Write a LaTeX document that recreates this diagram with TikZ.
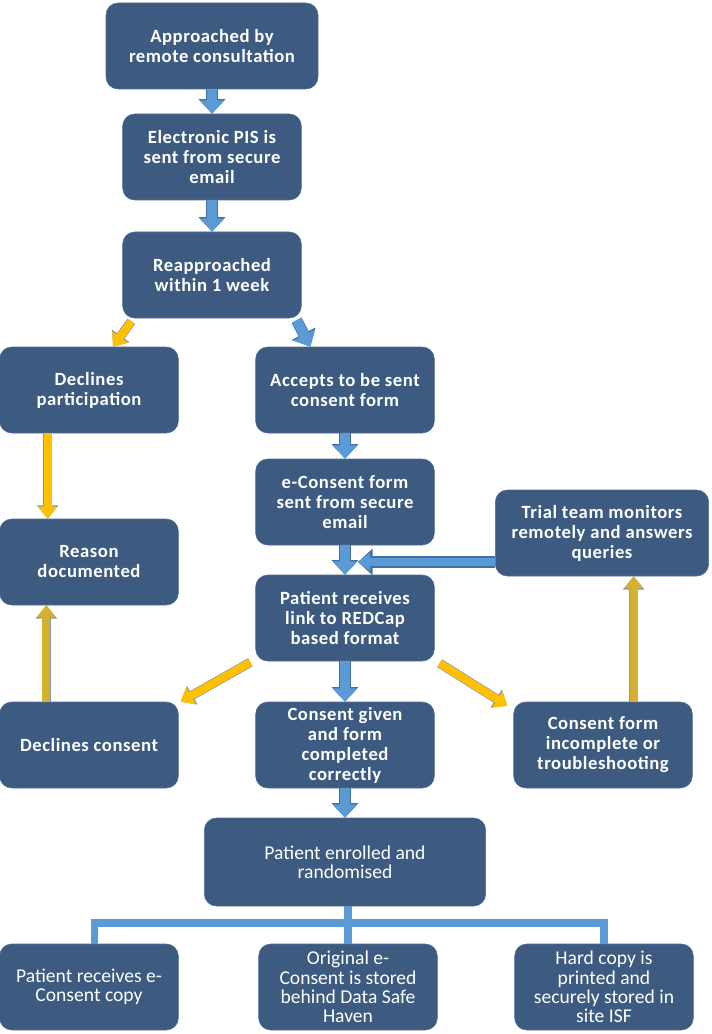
\documentclass[tikz,border=0pt]{standalone}
\usepackage{fontspec}
\setmainfont{Carlito}
\newfontfamily\boxfont{Carlito}[LetterSpace=3]
\usetikzlibrary{arrows.meta,positioning}

\definecolor{boxblue}{HTML}{3D5A80}
\definecolor{boxedge}{HTML}{4F6E98}
\definecolor{arrblue}{HTML}{5B9BD5}
\definecolor{arredge}{HTML}{41719C}
\definecolor{arryel}{HTML}{FFC000}
\definecolor{arrgold}{HTML}{D6B12F}
\definecolor{yeledge}{HTML}{8497B0}

\begin{document}
\begin{tikzpicture}[x=0.75pt,y=-0.75pt,
  box/.style={draw=boxedge, fill=boxblue, rounded corners=9pt, text=white,
    font=\boxfont\bfseries\fontsize{14}{15}\selectfont, align=center,
    minimum width=134pt, minimum height=64.5pt, inner sep=2pt},
  lowbox/.style={box, font=\fontsize{14.7}{14.5}\selectfont},
  bluearr/.style={line width=7.5pt, draw=arrblue,
    -{Triangle[width=18pt,length=10pt]},
    preaction={draw=arredge, line width=8.5pt,
      -{Triangle[width=19.5pt,length=11pt]}}},
  thinblue/.style={bluearr, line width=6pt,
    -{Triangle[width=13pt,length=9pt]},
    preaction={draw=arredge, line width=7pt,
      -{Triangle[width=14.5pt,length=10pt]}}},
  yelarr/.style={line width=6pt, draw=arryel,
    -{Triangle[width=14pt,length=9pt]},
    preaction={draw=yeledge, line width=7pt,
      -{Triangle[width=15.5pt,length=10pt]}}},
  tree/.style={line width=5.5pt, draw=arrblue}
]
\useasboundingbox (0,0) rectangle (712,1034);

% main column
\node[box, minimum width=159pt] (approach) at (212,46) {Approached by\\remote consultation};
\node[box] (pis) at (212,157) {Electronic PIS is\\sent from secure\\email};
\node[box] (reappr) at (212,275) {Reapproached\\within 1 week};
\node[box] (decl) at (89,390) {Declines\\participation};
\node[box] (accept) at (345,390) {Accepts to be sent\\consent form};
\node[box] (esent) at (345,502) {e-Consent form\\sent from secure\\email};
\node[box] (reason) at (89,562) {Reason\\documented};
\node[box] (link) at (345,618) {Patient receives\\link to REDCap\\based format};
\node[box, minimum width=160pt] (trial) at (602,533) {Trial team monitors\\remotely and answers\\queries};
\node[box] (nocons) at (89,745) {Declines consent};
\node[box] (given) at (345,745) {Consent given\\and form\\completed\\correctly};
\node[box] (incomp) at (603,745) {Consent form\\incomplete or\\troubleshooting};
\node[lowbox, minimum width=211pt, minimum height=66pt] (enrol) at (345,862) {Patient enrolled and\\randomised};

% bottom row
\node[lowbox] (copy) at (89,987) {Patient receives e-\\Consent copy};
\node[lowbox] (store) at (348,987) {Original e-\\Consent is stored\\behind Data Safe\\Haven};
\node[lowbox] (isf) at (604,987) {Hard copy is\\printed and\\securely stored in\\site ISF};

\coordinate (join) at (358,562);
\coordinate (hub) at (348,923);

% arrows
\draw[bluearr] (approach) -- (pis);
\draw[bluearr] (pis) -- (reappr);
\draw[yelarr] ([shift={(9,3)}]reappr.south west) -- ([xshift=18pt]decl.north);
\draw[bluearr] ([shift={(-5,2)}]reappr.south east) -- ([xshift=-26pt]accept.north);
\draw[yelarr] ([xshift=-31pt]decl.south) -- ([xshift=-31pt]reason.north);
\draw[bluearr] (accept) -- (esent);
\draw[bluearr] (esent) -- (link);
\draw[thinblue] (trial.west |- join) -- (join);
\draw[yelarr] ([shift={(-5,1)}]link.south west) -- ([shift={(2,0)}]nocons.north east);
\draw[bluearr] (link) -- (given);
\draw[yelarr] ([shift={(5,2)}]link.south east) -- ([shift={(-6,4)}]incomp.north west);
\draw[yelarr, draw=arrgold] ([xshift=-32pt]nocons.north) -- ([xshift=-32pt]reason.south);
\draw[yelarr, draw=arrgold] ([xshift=23pt]incomp.north) -- ([xshift=23pt]incomp.north |- trial.south);
\draw[bluearr] (given) -- (enrol);

% tree to the last row
\draw[tree] (enrol.south -| hub) -- (hub);
\draw[tree] ([xshift=4pt]copy.north) |- (hub) -| (isf.north);
\draw[tree] (hub) -- (store.north);
\end{tikzpicture}
\end{document}
